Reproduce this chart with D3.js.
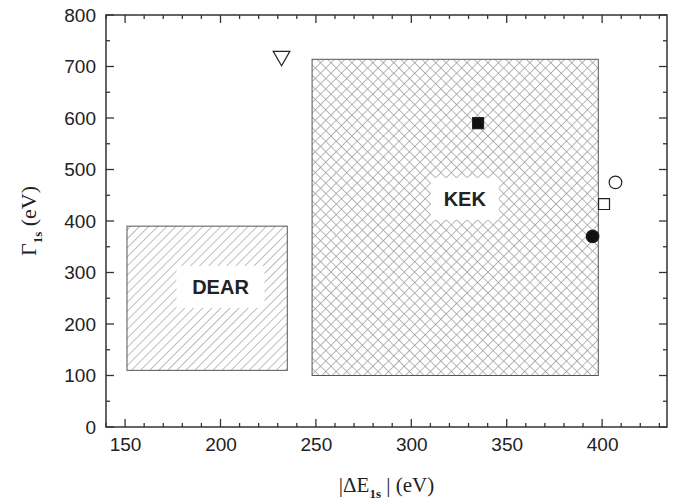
<!DOCTYPE html>
<html>
<head>
<meta charset="utf-8">
<script src="https://cdn.jsdelivr.net/npm/d3@7"></script>
<style>
  body { margin: 0; background: #fff; }
  svg { display: block; }
  .tick text { font-family: "Liberation Sans", Arial, sans-serif; font-size: 19px; fill: #222; }
</style>
</head>
<body>
<div id="chart"></div>
<script>
// ---- data ----
const regionNames = ["DEAR", "KEK"];
const regionX0 = [151, 248];
const regionX1 = [235, 398];
const regionY0 = [110, 100];
const regionY1 = [390, 714];
const regionLabelX = [200, 328];
const regionLabelY = [272, 443];

const pointX = [232, 335, 407, 401, 395];
const pointY = [720, 590, 475, 433, 370];
const pointShape = ["triangle", "square", "circle", "square", "circle"];
const pointFilled = [false, true, false, false, true];

const xMajorTicks = [150, 200, 250, 300, 350, 400];
const yMajorTicks = [0, 100, 200, 300, 400, 500, 600, 700, 800];

/***** BASIC SETUP *****/
const width = 685, height = 502;
const margin = {top: 15, left: 106, right: 18, bottom: 75};
const plotWidth = width - margin.left - margin.right;
const plotHeight = height - margin.top - margin.bottom;

const svg = d3.select("#chart").append("svg")
  .attr("width", width).attr("height", height);

const xScale = d3.scaleLinear().domain([140, 434]).range([0, plotWidth]);
const yScale = d3.scaleLinear().domain([0, 800]).range([plotHeight, 0]);

// hatch patterns
const defs = svg.append("defs");
defs.append("pattern")
  .attr("id", "hatchDear")
  .attr("patternUnits", "userSpaceOnUse")
  .attr("width", 6.4).attr("height", 6.4)
  .attr("patternTransform", "rotate(45)")
  .append("line")
  .attr("x1", 0).attr("y1", 0).attr("x2", 0).attr("y2", 6.4)
  .attr("stroke", "#8a8a8a").attr("stroke-width", 1.1);

const kek = defs.append("pattern")
  .attr("id", "hatchKek")
  .attr("patternUnits", "userSpaceOnUse")
  .attr("width", 7.4).attr("height", 7.4)
  .attr("patternTransform", "rotate(45)");
kek.append("line")
  .attr("x1", 0).attr("y1", 0).attr("x2", 0).attr("y2", 7.4)
  .attr("stroke", "#a0a0a0").attr("stroke-width", 1.5);
kek.append("line")
  .attr("x1", 0).attr("y1", 0).attr("x2", 7.4).attr("y2", 0)
  .attr("stroke", "#a0a0a0").attr("stroke-width", 1.5);

const plot = svg.append("g")
  .attr("transform", `translate(${margin.left}, ${margin.top})`);

/***** REGIONS *****/
const regions = regionNames.map((name, i) => ({
  name: name, x0: regionX0[i], x1: regionX1[i], y0: regionY0[i], y1: regionY1[i],
  lx: regionLabelX[i], ly: regionLabelY[i]
}));

plot.selectAll(".region")
  .data(regions)
  .join("rect")
  .attr("class", "region")
  .attr("x", d => xScale(d.x0))
  .attr("y", d => yScale(d.y1))
  .attr("width", d => xScale(d.x1) - xScale(d.x0))
  .attr("height", d => yScale(d.y0) - yScale(d.y1))
  .attr("fill", d => d.name === "DEAR" ? "url(#hatchDear)" : "url(#hatchKek)")
  .attr("stroke", "#555")
  .attr("stroke-width", 1);

// labels with white box behind
const labels = plot.selectAll(".regionLabel")
  .data(regions)
  .join("g")
  .attr("class", "regionLabel")
  .attr("transform", d => `translate(${xScale(d.lx)}, ${yScale(d.ly)})`);

labels.append("rect")
  .attr("x", d => d.name === "DEAR" ? -44 : -34)
  .attr("y", -21)
  .attr("width", d => d.name === "DEAR" ? 88 : 68)
  .attr("height", 42)
  .attr("fill", "#fff");

labels.append("text")
  .attr("text-anchor", "middle")
  .attr("dy", "0.36em")
  .style("font-family", "'Liberation Sans', Arial, sans-serif")
  .style("font-weight", "bold")
  .style("font-size", "20px")
  .style("fill", "#222")
  .text(d => d.name);

/***** POINTS *****/
const points = pointX.map((x, i) => ({x: x, y: pointY[i], shape: pointShape[i], filled: pointFilled[i]}));

const symbolFor = {
  square: d3.symbol().type(d3.symbolSquare).size(120),
  circle: d3.symbol().type(d3.symbolCircle).size(125),
  triangle: d3.symbol().type(d3.symbolTriangle).size(120)
};

plot.selectAll(".point")
  .data(points)
  .join("path")
  .attr("class", "point")
  .attr("d", d => symbolFor[d.shape]())
  .attr("transform", d => `translate(${xScale(d.x)}, ${yScale(d.y)})` + (d.shape === "triangle" ? " rotate(180)" : ""))
  .attr("fill", d => d.filled ? "#111" : "#fff")
  .attr("stroke", "#222")
  .attr("stroke-width", 1.2);

/***** AXES *****/
const xMinor = d3.range(140, 435, 10).filter(v => !xMajorTicks.includes(v));
const yMinor = d3.range(50, 800, 100);

function drawTicks(g, scale, values, len, orient) {
  // orient: bottom/top/left/right, ticks point inward
  g.selectAll(null)
    .data(values)
    .join("line")
    .attr("stroke", "#333")
    .attr("stroke-width", 1.3)
    .each(function(v) {
      const s = d3.select(this);
      if (orient === "bottom") s.attr("x1", scale(v)).attr("x2", scale(v)).attr("y1", plotHeight).attr("y2", plotHeight - len);
      if (orient === "top") s.attr("x1", scale(v)).attr("x2", scale(v)).attr("y1", 0).attr("y2", len);
      if (orient === "left") s.attr("y1", scale(v)).attr("y2", scale(v)).attr("x1", 0).attr("x2", len);
      if (orient === "right") s.attr("y1", scale(v)).attr("y2", scale(v)).attr("x1", plotWidth).attr("x2", plotWidth - len);
    });
}

const axes = plot.append("g").attr("class", "axes");
drawTicks(axes, xScale, xMajorTicks, 8, "bottom");
drawTicks(axes, xScale, xMinor, 4, "bottom");
drawTicks(axes, xScale, xMajorTicks, 8, "top");
drawTicks(axes, xScale, xMinor, 4, "top");
drawTicks(axes, yScale, yMajorTicks, 8, "left");
drawTicks(axes, yScale, yMinor, 4, "left");
drawTicks(axes, yScale, yMajorTicks, 8, "right");
drawTicks(axes, yScale, yMinor, 4, "right");

// frame
plot.append("rect")
  .attr("x", 0).attr("y", 0)
  .attr("width", plotWidth).attr("height", plotHeight)
  .attr("fill", "none").attr("stroke", "#333").attr("stroke-width", 1.5);

// tick labels via d3 axes (lines hidden)
plot.append("g")
  .attr("class", "xAxis")
  .attr("transform", `translate(0, ${plotHeight})`)
  .call(d3.axisBottom(xScale).tickValues(xMajorTicks).tickSize(0).tickPadding(11))
  .call(g => g.select(".domain").remove());

plot.append("g")
  .attr("class", "yAxis")
  .call(d3.axisLeft(yScale).tickValues(yMajorTicks).tickSize(0).tickPadding(10))
  .call(g => g.select(".domain").remove());

/***** AXIS TITLES *****/
const serif = "'Liberation Serif', 'Times New Roman', serif";

const xTitle = svg.append("text")
  .attr("x", margin.left + plotWidth / 2)
  .attr("y", 492)
  .attr("text-anchor", "middle")
  .style("font-family", serif)
  .style("font-size", "21px")
  .style("fill", "#222");
xTitle.append("tspan").text("|ΔE");
xTitle.append("tspan").attr("dy", 6).style("font-size", "13px").style("font-weight", "bold").text("1s");
xTitle.append("tspan").attr("dy", -6).text(" | (eV)");

const yTitle = svg.append("text")
  .attr("transform", `translate(36, ${margin.top + plotHeight / 2}) rotate(-90)`)
  .attr("text-anchor", "middle")
  .style("font-family", serif)
  .style("font-size", "22px")
  .style("fill", "#222");
yTitle.append("tspan").text("Γ");
yTitle.append("tspan").attr("dy", 6).style("font-size", "13px").style("font-weight", "bold").text("1s");
yTitle.append("tspan").attr("dy", -6).text(" (eV)");
</script>
</body>
</html>
